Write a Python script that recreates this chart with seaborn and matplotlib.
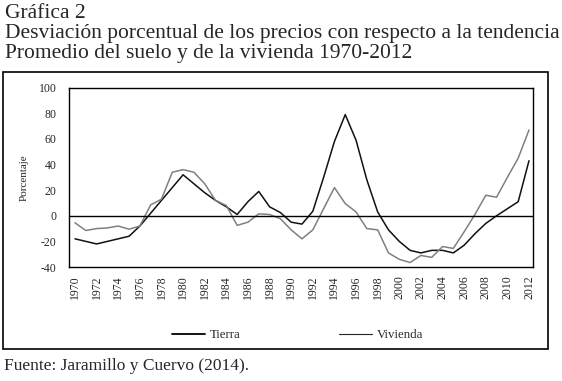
import numpy as np
import pandas as pd
import matplotlib
matplotlib.use("Agg")
import matplotlib.pyplot as plt
from matplotlib.patches import Rectangle
from matplotlib.lines import Line2D
import seaborn as sns

years = list(range(1970, 2013))
tierra = [-18, -20, -22, -20, -18, -16, -8, 2, 12, 22, 32, 25, 18, 12, 7, 1,
          11, 19, 7, 2.5, -5, -6.5, 3.5, 30, 58, 79, 59, 28, 3, -11, -20,
          -27, -29, -27, -27, -29, -23, -14, -6, 0, 5.5, 11, 43]
vivienda = [-5.5, -11.5, -10, -9.5, -8, -10.5, -8, 8.5, 13, 34, 36, 34, 25, 12,
            8, -7.5, -5, 1.5, 1, -2.3, -11, -18, -11, 5.5, 22, 9.5, 3, -10,
            -11, -29, -34, -36.5, -31, -32.5, -24, -25.5, -12.5, 1, 16, 14.5,
            30, 45, 67]
series_names = ["Tierra", "Vivienda"]
yticks = list(range(-40, 101, 20))
xticks = list(range(1970, 2013, 2))
title_lines = ["Gráfica 2",
               "Desviación porcentual de los precios con respecto a la tendencia",
               "Promedio del suelo y de la vivienda 1970-2012"]

df = pd.DataFrame({
    "Año": years * 2,
    "Valor": tierra + vivienda,
    "Serie": [series_names[0]] * len(years) + [series_names[1]] * len(years),
})

sns.set_style("white")
plt.rcParams["font.family"] = ["Liberation Serif", "DejaVu Serif"]

fig = plt.figure(figsize=(5.62, 3.81), dpi=100)
ax = fig.add_axes([69 / 562, 1 - 267 / 381, (533 - 69) / 562, (267 - 87.7) / 381])

sns.lineplot(data=df, x="Año", y="Valor", hue="Serie",
             palette={"Tierra": "#111111", "Vivienda": "#808080"},
             linewidth=1.1, ax=ax, legend=False)

ax.axhline(0, color="black", linewidth=1.0)
ax.set_xlim(1969.445, 2012.37)
ax.set_ylim(-40, 100)
ax.set_yticks(yticks)
ax.set_yticklabels([str(v) for v in yticks], fontsize=8.5)
ax.set_xticks(xticks)
ax.set_xticklabels([str(v) for v in xticks], rotation=90, fontsize=8.5)
ax.tick_params(axis="both", length=0, pad=6)
ax.tick_params(axis="y", pad=9)
ax.set_xlabel("")
ax.set_ylabel("Porcentaje", fontsize=8, labelpad=7)
for s in ax.spines.values():
    s.set_color("black")
    s.set_linewidth(1.0)

# legend
handles = [Line2D([], [], color="black", linewidth=1.3),
           Line2D([], [], color="#222222", linewidth=0.8)]
fig.legend(handles, series_names, loc="center left",
           bbox_to_anchor=(171.7 / 562, 1 - 335 / 381),
           ncol=2, frameon=False, fontsize=9.3, handlelength=2.6,
           handletextpad=0.35, columnspacing=7.6, borderpad=0, borderaxespad=0)

# outer frame
fig.patches.append(Rectangle((3 / 562, 1 - 349 / 381), (548 - 3) / 562, (349 - 72) / 381,
                             transform=fig.transFigure, fill=False,
                             edgecolor="black", linewidth=1.2))

# titles
for i, line in enumerate(title_lines):
    fig.text(5 / 562, 1 - (18 + 20 * i) / 381, line,
             ha="left", va="baseline", fontsize=15.5)
fig.text(4 / 562, 1 - 366 / 381, "Fuente: Jaramillo y Cuervo (2014).",
         ha="left", va="center", fontsize=12.5)

fig.savefig("out.png", dpi=100)
